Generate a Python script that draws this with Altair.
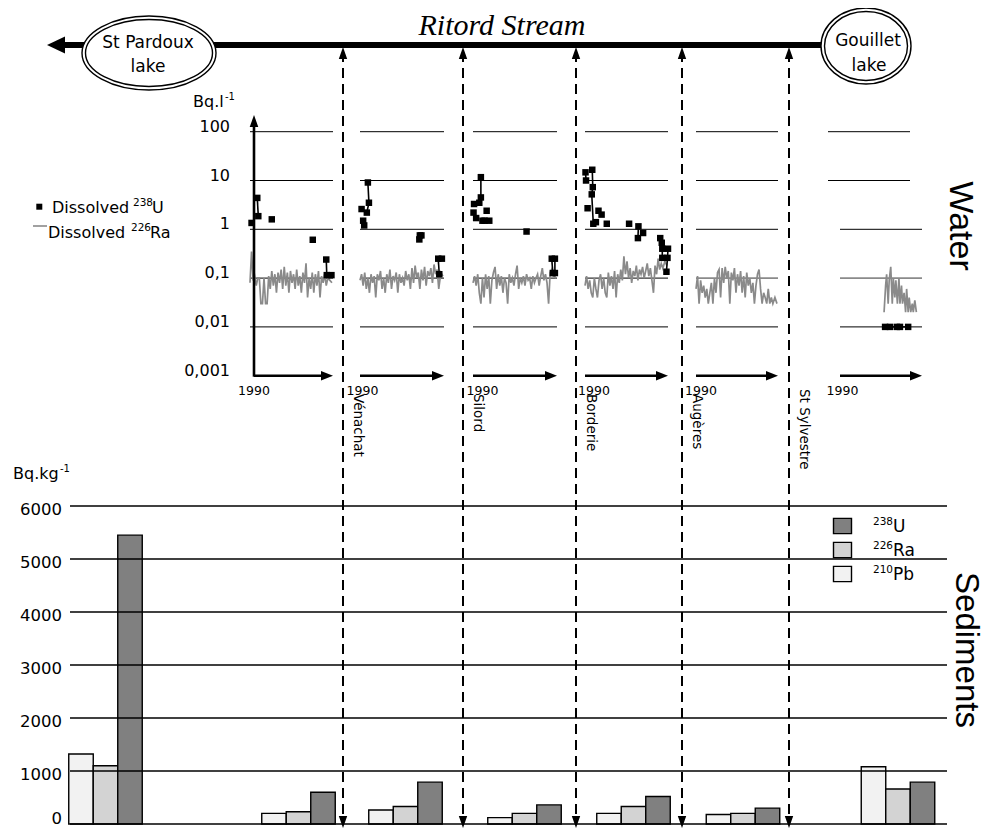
import altair as alt
import pandas as pd

# ------------------------------------------------------------------ data
# Sediments (Bq/kg)
sed_sites = ["St Pardoux lake", "Vénachat", "Silord", "Borderie", "Augères", "St Sylvestre", "Gouillet lake"]
sed_pb210 = [1320, 200, 265, 120, 200, 180, 1080]
sed_ra226 = [1100, 230, 330, 200, 330, 200, 660]
sed_u238 = [5450, 600, 790, 360, 520, 300, 790]
sed_ticks = [0, 1000, 2000, 3000, 4000, 5000, 6000]

# Water (Bq/l)
log_ticks = [100, 10, 1, 0.1, 0.01, 0.001]
log_labels = ["100", "10", "1", "0,1", "0,01", "0,001"]
stations = ["Vénachat", "Silord", "Borderie", "Augères", "St Sylvestre"]

ra_dates = [1990.0, 1990.3, 1990.6, 1990.9, 1991.2, 1991.5, 1991.8, 1992.1, 1992.4, 1992.7,
            1993.0, 1993.3, 1993.6, 1993.9, 1994.2, 1994.5, 1994.8, 1995.1, 1995.4, 1995.7,
            1996.0, 1996.3, 1996.6, 1996.9, 1997.2, 1997.5, 1997.8, 1998.1, 1998.4, 1998.7,
            1999.0, 1999.3, 1999.6, 1999.9, 2000.2, 2000.5, 2000.8, 2001.1, 2001.4, 2001.7,
            2002.0, 2002.3, 2002.6, 2002.9, 2003.2, 2003.5, 2003.8, 2004.1, 2004.4, 2004.7,
            2005.0, 2005.4, 2005.8]
ra_p1 = [0.08, 0.35, 0.09, 0.11, 0.07, 0.10, 0.10, 0.03, 0.03, 0.10,
         0.03, 0.03, 0.11, 0.06, 0.14, 0.07, 0.12, 0.05, 0.13, 0.08,
         0.15, 0.06, 0.17, 0.07, 0.13, 0.05, 0.14, 0.08, 0.12, 0.06,
         0.15, 0.07, 0.11, 0.05, 0.13, 0.08, 0.20, 0.04, 0.10, 0.06,
         0.13, 0.05, 0.12, 0.07, 0.14, 0.04, 0.11, 0.08, 0.12, 0.07,
         0.10, 0.09, 0.08]
ra_p2 = [0.09, 0.12, 0.07, 0.13, 0.06, 0.10, 0.05, 0.12, 0.08, 0.11,
         0.04, 0.12, 0.09, 0.14, 0.06, 0.10, 0.05, 0.12, 0.08, 0.15,
         0.06, 0.11, 0.09, 0.13, 0.05, 0.12, 0.08, 0.10, 0.07, 0.14,
         0.09, 0.12, 0.06, 0.16, 0.08, 0.18, 0.10, 0.13, 0.06, 0.15,
         0.09, 0.17, 0.07, 0.14, 0.11, 0.16, 0.08, 0.19, 0.12, 0.15,
         0.06, 0.13, 0.11]
ra_p3 = [0.08, 0.11, 0.07, 0.12, 0.05, 0.03, 0.10, 0.04, 0.12, 0.06,
         0.11, 0.03, 0.09, 0.13, 0.17, 0.06, 0.12, 0.07, 0.11, 0.05,
         0.10, 0.08, 0.03, 0.12, 0.08, 0.10, 0.07, 0.12, 0.18, 0.06,
         0.10, 0.08, 0.11, 0.07, 0.12, 0.09, 0.10, 0.06, 0.11, 0.08,
         0.10, 0.12, 0.07, 0.11, 0.16, 0.09, 0.12, 0.08, 0.03, 0.13,
         0.15, 0.11, 0.10]
ra_p4 = [0.07, 0.11, 0.06, 0.09, 0.05, 0.04, 0.10, 0.06, 0.04, 0.09,
         0.12, 0.06, 0.10, 0.05, 0.04, 0.13, 0.07, 0.11, 0.06, 0.14,
         0.04, 0.12, 0.08, 0.15, 0.09, 0.28, 0.12, 0.22, 0.10, 0.16,
         0.08, 0.14, 0.11, 0.18, 0.09, 0.15, 0.12, 0.17, 0.10, 0.14,
         0.20, 0.11, 0.16, 0.09, 0.05, 0.18, 0.12, 0.25, 0.15, 0.20,
         0.16, 0.22, 0.18]
ra_p5 = [0.06, 0.11, 0.03, 0.09, 0.05, 0.07, 0.04, 0.06, 0.03, 0.05,
         0.08, 0.03, 0.10, 0.05, 0.13, 0.15, 0.04, 0.16, 0.08, 0.17,
         0.10, 0.14, 0.03, 0.13, 0.09, 0.16, 0.05, 0.12, 0.07, 0.14,
         0.05, 0.11, 0.04, 0.13, 0.07, 0.10, 0.05, 0.08, 0.03, 0.07,
         0.12, 0.15, 0.06, 0.03, 0.05, 0.04, 0.03, 0.06, 0.03, 0.04,
         0.03, 0.04, 0.03]
ra6_dates = [1998.6, 1998.9, 1999.1, 1999.4, 1999.6, 1999.9, 2000.2, 2000.4, 2000.7, 2000.9,
             2001.2, 2001.5, 2001.7, 2002.0, 2002.2, 2002.5, 2002.8, 2003.0, 2003.3, 2003.5,
             2003.8, 2004.1, 2004.3, 2004.6, 2004.9]
ra_p6 = [0.02, 0.07, 0.12, 0.03, 0.09, 0.17, 0.03, 0.10, 0.04, 0.09,
         0.03, 0.10, 0.03, 0.07, 0.03, 0.05, 0.02, 0.06, 0.02, 0.04,
         0.02, 0.03, 0.02, 0.035, 0.02]

u1_year = [1990.3, 1991.4, 1991.6, 1994.2, 2002.1, 2004.7, 2004.8, 2005.7]
u1_val = [1.35, 4.4, 1.86, 1.6, 0.61, 0.24, 0.115, 0.115]
u1_grp = ["a", "b", "b", "c", "d", "e", "e", "e"]

u2_year = [1990.3, 1990.6, 1990.8, 1991.5, 1991.7, 1991.3, 2001.3, 2001.4, 2001.7, 2004.9, 2005.1, 2005.6]
u2_val = [2.6, 1.5, 1.2, 9.1, 3.5, 2.2, 0.62, 0.75, 0.75, 0.25, 0.12, 0.25]
u2_grp = ["a", "b", "b", "c", "c", "c", "d", "e", "f", "g", "g", "h"]

u3_year = [1990.1, 1990.2, 1990.6, 1991.5, 1991.5, 1991.2, 1991.8, 1992.2, 1992.6, 1993.1, 2000.2,
           2005.0, 2005.2, 2005.6, 2005.6]
u3_val = [2.2, 3.3, 1.7, 11.7, 4.5, 3.5, 1.5, 1.5, 2.4, 1.5, 0.9, 0.25, 0.127, 0.25, 0.127]
u3_grp = ["a", "b", "c", "d", "d", "d", "e", "f", "g", "h", "i", "j", "j", "k", "k"]

u4_year = [1990.1, 1990.2, 1991.4, 1991.5, 1991.3, 1991.6, 1990.5, 1992.1, 1992.6, 1993.2, 1994.2,
           1998.5, 2000.3, 2000.2, 2001.2, 2004.5, 2004.8, 2004.9, 2004.9, 2006.0, 2005.9, 2005.7]
u4_val = [14.7, 10, 16.6, 7.3, 5.2, 1.3, 2.7, 1.4, 2.4, 2.0, 1.3,
          1.3, 1.15, 0.66, 0.84, 0.66, 0.53, 0.4, 0.26, 0.4, 0.26, 0.135]
u4_grp = ["a", "a", "b", "b", "b", "b", "c", "d", "e", "f", "g",
          "h", "i", "i", "j", "k", "k", "k", "k", "l", "l", "l"]

u6_year = [1998.8, 1999.75, 2001.1, 2001.7, 2003.3]
u6_val = [0.01, 0.01, 0.01, 0.01, 0.01]
u6_grp = ["a", "a", "a", "a", "a"]

# ------------------------------------------------------------------ layout (page pixels)
W, H, M = 977, 820, 8
FONT = "DejaVu Sans"
panel_x = [(250, 333), (360, 444), (473, 557), (585, 668), (696, 778), (840, 922)]
WY_BOT, WY_TOP = 375.7, 131.7       # 0.001 and 100
SY_BOT, SY_TOP = 824, 506           # 0 and 6000
station_x = [343, 463, 576, 682, 789]
bar_centers = [105.5, 298.5, 405.5, 524.5, 633.5, 743, 898]
BW = 24.5
GREY = "#8a8a8a"


def LX(f):
    return alt.X(f"{f}:Q", scale=alt.Scale(domain=[M, M + W], range=[0, W]), axis=None)


def LY(f):
    return alt.Y(f"{f}:Q", scale=alt.Scale(domain=[M, M + H], range=[0, H]), axis=None)


def WYs(f):
    return alt.Y(f"{f}:Q", scale=alt.Scale(type="log", domain=[0.001, 100],
                                           range=[WY_BOT - M, WY_TOP - M], nice=False), axis=None)


def SYs(f):
    return alt.Y(f"{f}:Q", scale=alt.Scale(domain=[0, 6000], range=[SY_BOT - M, SY_TOP - M],
                                           nice=False, zero=False), axis=None)


def TX(i, f):
    return alt.X(f"{f}:Q", scale=alt.Scale(domain=[1990, 2006],
                                           range=[panel_x[i][0] - M, panel_x[i][1] - M],
                                           nice=False, zero=False), axis=None)


def texts(rows, size, align="left", baseline="alphabetic", angle=0, font=FONT,
          style="normal", weight="normal", color="black"):
    df = pd.DataFrame(rows, columns=["t", "x", "y"])
    return alt.Chart(df).mark_text(fontSize=size, align=align, baseline=baseline, angle=angle,
                                   font=font, fontStyle=style, fontWeight=weight,
                                   color=color).encode(x=LX("x"), y=LY("y"), text="t:N")


def symbols(xs, ys, shape, size, fill="black", stroke="", sw=1.5):
    df = pd.DataFrame({"x": xs, "y": ys})
    kw = dict(shape=shape, size=size, filled=True, fill=fill, opacity=1, fillOpacity=1)
    if stroke:
        kw.update(stroke=stroke, strokeWidth=sw, strokeOpacity=1)
    return alt.Chart(df).mark_point(**kw).encode(x=LX("x"), y=LY("y"))


def rules(x0, x1, y0, y1, color="black", sw=1.0, dash=None):
    df = pd.DataFrame({"x0": x0, "x1": x1, "y0": y0, "y1": y1})
    kw = dict(color=color, strokeWidth=sw, strokeCap="butt")
    if dash:
        kw["strokeDash"] = dash
    return alt.Chart(df).mark_rule(**kw).encode(x=LX("x0"), x2=alt.X2("x1:Q"),
                                                  y=LY("y0"), y2=alt.Y2("y1:Q"))


def ellipse(ratio):
    return f"M -1 0 A 1 {ratio:.4f} 0 1 1 1 0 A 1 {ratio:.4f} 0 1 1 -1 0 Z"


ARROW_L = "M -1 0 L 1 -0.95 L 1 0.95 Z"
ARROW_U = "M 0 -1 L 0.7 1 L -0.7 1 Z"
ARROW_D = "M 0 1 L 0.7 -1 L -0.7 -1 Z"
ARROW_R = "M 1 0 L -1 -0.8 L -1 0.8 Z"
RECT = "M -1 -0.85 L 1 -0.85 L 1 0.85 L -1 0.85 Z"

layers = []

# ------------------------------------------------------------------ stream
layers.append(rules([60], [830], [45], [45], sw=6))
layers.append(symbols([56], [45], ARROW_L, 324))
# lakes (double ellipses)
for (cx, cy, rx, ry) in [(149, 53, 67, 37), (866, 46, 45, 38)]:
    layers.append(symbols([cx], [cy], ellipse(ry / rx), (2 * rx) ** 2, fill="white", stroke="black", sw=1.4))
    layers.append(symbols([cx], [cy], ellipse((ry - 3.5) / (rx - 3.5)), (2 * rx - 7) ** 2,
                          fill="white", stroke="black", sw=1.4))
layers.append(texts([["St Pardoux", 148, 48], ["lake", 148, 72], ["Gouillet", 868, 46], ["lake", 869, 71]],
                    17, align="center"))
layers.append(texts([["Ritord Stream", 502, 35]], 30, align="center", font="Liberation Serif", style="italic"))

# dashed station arrows
layers.append(rules(station_x, station_x, [52] * 5, [818] * 5, sw=2, dash=[10, 6]))
layers.append(symbols(station_x, [53] * 5, ARROW_U, 144))
layers.append(symbols(station_x, [822] * 5, ARROW_D, 144))
layers.append(texts([[s, x + 11, 394 if s != "St Sylvestre" else 389] for s, x in zip(stations, station_x)],
                    13.5, angle=90, baseline="alphabetic"))

# ------------------------------------------------------------------ water panels
ra_series = [ra_p1, ra_p2, ra_p3, ra_p4, ra_p5]
u_series = [(u1_year, u1_val, u1_grp), (u2_year, u2_val, u2_grp), (u3_year, u3_val, u3_grp),
            (u4_year, u4_val, u4_grp), None, (u6_year, u6_val, u6_grp)]

for i, (x0, x1) in enumerate(panel_x):
    rows = []
    for v in log_ticks[:-1]:
        a, b = x0, x1
        if i == 5 and v >= 10:
            a, b = 828, 910
        col = GREY if (i >= 4 and v == 0.1) else "black"
        rows.append((a, b, v, col))
    gdf = pd.DataFrame(rows, columns=["a", "b", "v", "c"])
    for col, sw in [("black", 1.0), (GREY, 1.6)]:
        sub = gdf[gdf["c"] == col]
        if len(sub):
            layers.append(alt.Chart(sub).mark_rule(color=col, strokeWidth=sw).encode(
                x=LX("a"), x2=alt.X2("b:Q"), y=WYs("v")))
    layers.append(rules([x0 + (4 if i == 0 else 0)], [x1 - 8], [WY_BOT], [WY_BOT], sw=2.6))
    layers.append(symbols([x1 - 6], [WY_BOT], ARROW_R, 144))
    if i < 5:
        rdf = pd.DataFrame({"year": ra_dates[:len(ra_series[i])], "val": ra_series[i][:len(ra_dates)]})
    else:
        rdf = pd.DataFrame({"year": ra6_dates, "val": ra_p6})
    layers.append(alt.Chart(rdf).mark_line(color=GREY, strokeWidth=1.7).encode(
        x=TX(i, "year"), y=WYs("val")))
    if u_series[i] is not None:
        yy, vv, gg = u_series[i]
        n = min(len(yy), len(vv), len(gg))
        udf = pd.DataFrame({"year": yy[:n], "val": vv[:n], "grp": gg[:n], "i": list(range(n))})
        layers.append(alt.Chart(udf).mark_line(color="black", strokeWidth=1.6).encode(
            x=TX(i, "year"), y=WYs("val"), detail="grp:N", order="i:Q"))
        layers.append(alt.Chart(udf).mark_point(shape="square", size=42, filled=True, color="black",
                                                opacity=1).encode(x=TX(i, "year"), y=WYs("val")))

layers.append(rules([254], [254], [WY_BOT + 1], [124], sw=2.6))
layers.append(symbols([254], [121], ARROW_U, 150))
tdf = pd.DataFrame({"v": log_ticks, "t": log_labels, "x": [230] * 6})
layers.append(alt.Chart(tdf).mark_text(font=FONT, fontSize=16, align="right", baseline="middle", dy=-5,
                                       color="black").encode(x=LX("x"), y=WYs("v"), text="t:N"))
layers.append(texts([["Bq.l", 193, 107]], 16))
layers.append(texts([["-1", 225, 100]], 10))
layers.append(texts([["1990", c, 391] for c in [254, 362.5, 482.5, 594, 701, 842.5]], 12.5,
                    align="center", baseline="middle"))

# water legend
layers.append(symbols([39.3], [206.7], "square", 36))
layers.append(rules([33], [47], [226], [226], color=GREY, sw=1.6))
layers.append(texts([["Dissolved", 52, 213], ["U", 152, 213], ["Dissolved", 48, 238], ["Ra", 150, 238]], 16))
layers.append(texts([["238", 133, 206], ["226", 131, 231]], 10.5))

layers.append(texts([["Water", 960, 226]], 34, align="center", baseline="middle", angle=90,
                    font="Liberation Sans"))

# ------------------------------------------------------------------ sediments
bar_rows = []
for s, c, pb, ra, u in zip(sed_sites, bar_centers, sed_pb210, sed_ra226, sed_u238):
    for k, (iso, v) in enumerate([("210Pb", pb), ("226Ra", ra), ("238U", u)]):
        x0 = c + (k - 1.5) * BW
        bar_rows.append((s, iso, v, x0, x0 + BW, 0))
bdf = pd.DataFrame(bar_rows, columns=["site", "iso", "val", "x0", "x1", "zero"])
layers.append(alt.Chart(bdf).mark_rect(stroke="black", strokeWidth=1.4).encode(
    x=LX("x0"), x2=alt.X2("x1:Q"), y=SYs("val"), y2=alt.Y2("zero:Q"),
    fill=alt.Fill("iso:N", scale=alt.Scale(domain=["210Pb", "226Ra", "238U"],
                                           range=["#f2f2f2", "#d3d3d3", "#808080"]), legend=None)))
sdf = pd.DataFrame({"v": sed_ticks, "a": [70] * 7, "b": [947] * 7, "t": [str(t) for t in sed_ticks],
                    "lx": [62] * 7})
layers.append(alt.Chart(sdf).mark_rule(color="black", strokeWidth=1.3).encode(
    x=LX("a"), x2=alt.X2("b:Q"), y=SYs("v")))
layers.append(alt.Chart(sdf[sdf["v"] > 0]).mark_text(font=FONT, fontSize=16.5, align="right",
                                                     baseline="alphabetic", dy=9, color="black").encode(
    x=LX("lx"), y=SYs("v"), text="t:N"))
layers.append(alt.Chart(sdf[sdf["v"] == 0]).mark_text(font=FONT, fontSize=16.5, align="right",
                                                      baseline="bottom", dy=3, color="black").encode(
    x=LX("lx"), y=SYs("v"), text="t:N"))
layers.append(texts([["Bq.kg", 13, 479]], 16))
layers.append(texts([["-1", 60, 472]], 10))

# sediment legend
for y, fill in [(526, "#808080"), (550, "#d3d3d3"), (574, "#f2f2f2")]:
    layers.append(symbols([842.5], [y], RECT, 324, fill=fill, stroke="black", sw=1.4))
layers.append(texts([["238", 873, 525], ["226", 873, 549], ["210", 873, 573]], 10.5))
layers.append(texts([["U", 893, 532], ["Ra", 893, 556], ["Pb", 893, 580]], 17))

layers.append(texts([["Sediments", 966, 650]], 33, align="center", baseline="middle", angle=90,
                    font="Liberation Sans"))

chart = alt.layer(*layers).resolve_scale(x="independent", y="independent", fill="independent").properties(
    width=W, height=H, autosize=alt.AutoSizeParams(type="none"), padding=0
).configure_view(stroke=None)

chart.save("out.html", embed_options={"renderer": "svg", "actions": False})
